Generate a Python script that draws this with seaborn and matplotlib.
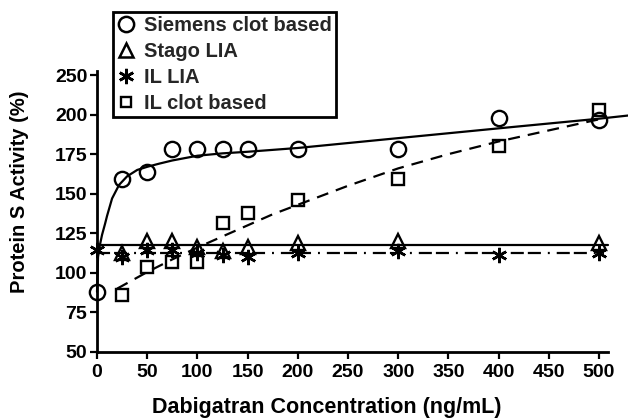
import numpy as np
import pandas as pd
import matplotlib
matplotlib.use("Agg")
import matplotlib.pyplot as plt
from matplotlib.lines import Line2D
import seaborn as sns

# ---------------- data ----------------
siemens_x = [0, 25, 50, 75, 100, 125, 150, 200, 300, 400, 500]
siemens_y = [88, 159, 164, 178, 178, 178, 178, 178, 178, 197.7, 196.7]

stago_x = [25, 50, 75, 100, 125, 150, 200, 300, 500]
stago_y = [112.5, 119.8, 120, 116.6, 113.5, 116.6, 118.7, 120.4, 118.7]

illia_x = [0, 25, 50, 75, 100, 125, 150, 200, 300, 400, 500]
illia_y = [114.6, 110.3, 114.6, 114.6, 112.4, 111.3, 110.3, 112.4, 113.5, 111.4, 112.4]

ilclot_x = [25, 50, 75, 100, 125, 150, 200, 300, 400, 500]
ilclot_y = [86, 103.4, 107, 107, 131.8, 137.7, 146, 159, 180, 206]

# fitted curves
siemens_fit_x = [0, 1, 3, 5, 8, 10, 15, 22, 30, 40, 50, 62, 75, 100, 125, 150,
                 200, 282, 400, 500, 529]
siemens_fit_y = [88, 110, 118, 124, 131, 136, 147, 155.6, 161, 165, 167, 169,
                 171, 174, 175.5, 176.5, 178.9, 184, 191.3, 197.4, 199.4]

ilclot_fit_x = [20, 50, 75, 100, 125, 150, 175, 200, 250, 300, 350, 400, 450, 500]
ilclot_fit_y = [90, 100.5, 108.5, 116, 123, 130, 137, 143, 155, 166, 175, 183,
                190, 197]

stago_fit_x = [0, 509]
stago_fit_y = [117.3, 117.3]

illia_fit_x = [0, 505]
illia_fit_y = [112.6, 112.6]

x_ticks = [0, 50, 100, 150, 200, 250, 300, 350, 400, 450, 500]
y_ticks = [50, 75, 100, 125, 150, 175, 200, 250]

legend_labels = ["Siemens clot based", "Stago LIA", "IL LIA", "IL clot based"]

# ---------------- style ----------------
sns.set_theme(style="ticks")
plt.rcParams["font.family"] = ["Liberation Sans", "DejaVu Sans"]
plt.rcParams["font.weight"] = "bold"
plt.rcParams["axes.labelweight"] = "bold"
plt.rcParams["lines.scale_dashes"] = False

fig = plt.figure(figsize=(6.28, 4.18), dpi=100)
ax = fig.add_axes([0.1545, 0.158, 0.8137, 0.672])

# broken-scale y axis: 200-250 compressed to half
def fwd(y):
    y = np.asarray(y, dtype=float)
    return np.where(y <= 200, y, 200 + (y - 200) / 2.0)

def inv(y):
    y = np.asarray(y, dtype=float)
    return np.where(y <= 200, y, 200 + (y - 200) * 2.0)

ax.set_yscale("function", functions=(fwd, inv))

lw = 1.6
K = "black"

# fitted lines
sns.lineplot(x=siemens_fit_x, y=siemens_fit_y, ax=ax, color=K, lw=lw,
             estimator=None, sort=False, clip_on=False)
sns.lineplot(x=ilclot_fit_x, y=ilclot_fit_y, ax=ax, color=K, lw=lw,
             estimator=None, sort=False, linestyle=(0, (8.6, 5.8)))
sns.lineplot(x=stago_fit_x, y=stago_fit_y, ax=ax, color=K, lw=lw,
             estimator=None, sort=False, clip_on=False)
sns.lineplot(x=illia_fit_x, y=illia_fit_y, ax=ax, color=K, lw=lw,
             estimator=None, sort=False, clip_on=False,
             linestyle=(0, (9.4, 2.9, 9.4, 5, 1.4, 5)))

# markers
star = (6, 2, 0)
sns.lineplot(x=siemens_x, y=siemens_y, ax=ax, estimator=None, linestyle="",
             marker="o", markersize=11, markerfacecolor="none",
             markeredgecolor=K, markeredgewidth=1.7, clip_on=False)
sns.lineplot(x=stago_x, y=stago_y, ax=ax, estimator=None, linestyle="",
             marker="^", markersize=10, markerfacecolor="none",
             markeredgecolor=K, markeredgewidth=1.7, clip_on=False)
sns.lineplot(x=illia_x, y=illia_y, ax=ax, estimator=None, linestyle="",
             marker=star, markersize=11, markerfacecolor="none",
             markeredgecolor=K, markeredgewidth=1.8, color=K, clip_on=False)
sns.lineplot(x=ilclot_x, y=ilclot_y, ax=ax, estimator=None, linestyle="",
             marker="s", markersize=8.5, markerfacecolor="none",
             markeredgecolor=K, markeredgewidth=1.7, clip_on=False)

# axes
ax.set_xlim(0, 509)
ax.set_ylim(50, 255)
ax.set_xticks(x_ticks)
ax.set_yticks(y_ticks)
ax.set_yticklabels([str(t) for t in y_ticks])
ax.yaxis.set_minor_locator(matplotlib.ticker.NullLocator())
ax.tick_params(axis="both", which="major", length=5, width=1.6,
               labelsize=14, color=K, labelcolor=K, pad=2)
ax.tick_params(axis="x", pad=4)
for lab in ax.get_xticklabels() + ax.get_yticklabels():
    lab.set_fontweight("bold")
for side in ["left", "bottom"]:
    ax.spines[side].set_linewidth(2)
    ax.spines[side].set_color(K)
sns.despine(ax=ax)

ax.set_xlabel("Dabigatran Concentration (ng/mL)", fontsize=15.5,
              fontweight="bold", color=K)
ax.set_ylabel("Protein S Activity (%)", fontsize=14.5, fontweight="bold",
              color=K)
ax.xaxis.set_label_coords(0.45, -0.16)
ax.yaxis.set_label_coords(-0.133, 0.569)

# legend
handles = [
    Line2D([], [], linestyle="", marker="o", markersize=11,
           markerfacecolor="none", markeredgecolor=K, markeredgewidth=1.8),
    Line2D([], [], linestyle="", marker="^", markersize=10,
           markerfacecolor="none", markeredgecolor=K, markeredgewidth=1.8),
    Line2D([], [], linestyle="", marker=star, markersize=11,
           markeredgecolor=K, markeredgewidth=1.9, color=K),
    Line2D([], [], linestyle="", marker="s", markersize=6.5,
           markerfacecolor="none", markeredgecolor=K, markeredgewidth=1.7),
]
leg = fig.legend(handles, legend_labels, loc="upper left",
                 bbox_to_anchor=(113 / 628, 1 - 12 / 418),
                 bbox_transform=fig.transFigure, frameon=True, fancybox=False,
                 edgecolor=K, framealpha=1, handlelength=0.9,
                 handletextpad=0.45, borderpad=0.2, labelspacing=0.35,
                 borderaxespad=0,
                 prop={"size": 14.5, "weight": "bold"})
leg.get_frame().set_linewidth(2)

fig.savefig("out.png", dpi=100)
